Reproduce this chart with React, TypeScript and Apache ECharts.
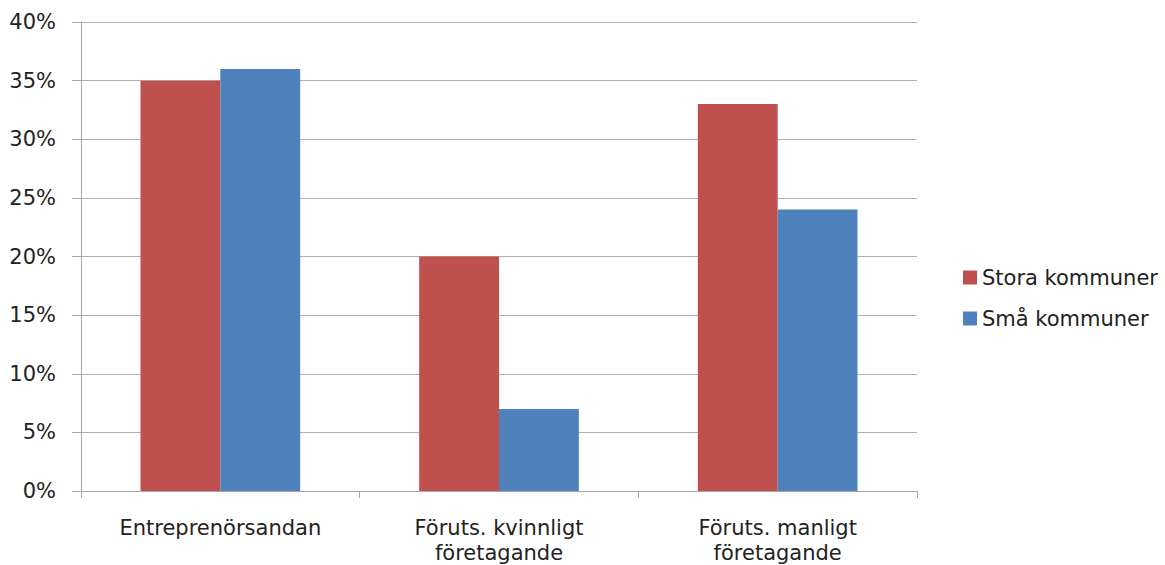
import React, { useEffect, useRef } from "react";
import * as echarts from "echarts";

const categories = ["Entreprenörsandan", "Föruts. kvinnligt\nföretagande", "Föruts. manligt\nföretagande"];
const seriesNames = ["Stora kommuner", "Små kommuner"];
const storaValues = [35, 20, 33];
const smaValues = [36, 7, 24];
const colors = ["#C0504D", "#4F81BD"];

export default function App() {
  const ref = useRef<HTMLDivElement>(null);
  useEffect(() => {
    document.body.style.margin = "0";
    const chart = echarts.init(ref.current!, null, { renderer: "svg" });
    const font = "'DejaVu Sans', sans-serif";
    chart.setOption({
      animation: false,
      textStyle: { fontFamily: font },
      grid: { left: 81, right: 248, top: 22, bottom: 71, containLabel: false },
      legend: {
        orient: "vertical",
        left: 958,
        top: 262,
        itemWidth: 14,
        itemHeight: 14,
        itemGap: 20,
        icon: "rect",
        textStyle: { fontSize: 21, color: "#222", fontFamily: font },
        data: seriesNames,
      },
      xAxis: {
        type: "category",
        data: categories,
        axisLine: { lineStyle: { color: "#a6a6a6", width: 1 } },
        axisTick: { show: true, length: 7, lineStyle: { color: "#a6a6a6" } },
        axisLabel: { fontSize: 21, color: "#222", margin: 24, lineHeight: 25, fontFamily: font },
      },
      yAxis: {
        type: "value",
        min: 0,
        max: 40,
        interval: 5,
        axisLine: { show: true, lineStyle: { color: "#a6a6a6", width: 1 } },
        axisTick: { show: true, length: 9, lineStyle: { color: "#a6a6a6" } },
        splitLine: { lineStyle: { color: "#b0b0b0", width: 1 } },
        axisLabel: { fontSize: 21, color: "#222", margin: 25, formatter: "{value}%", fontFamily: font },
      },
      series: [
        {
          name: seriesNames[0],
          type: "bar",
          data: storaValues,
          itemStyle: { color: colors[0] },
          barGap: "0%",
          barCategoryGap: "42.7%",
        },
        {
          name: seriesNames[1],
          type: "bar",
          data: smaValues,
          itemStyle: { color: colors[1] },
          barGap: "0%",
          barCategoryGap: "42.7%",
        },
      ],
    });
    return () => chart.dispose();
  }, []);
  return <div ref={ref} style={{ width: 1165, height: 565 }} />;
}
